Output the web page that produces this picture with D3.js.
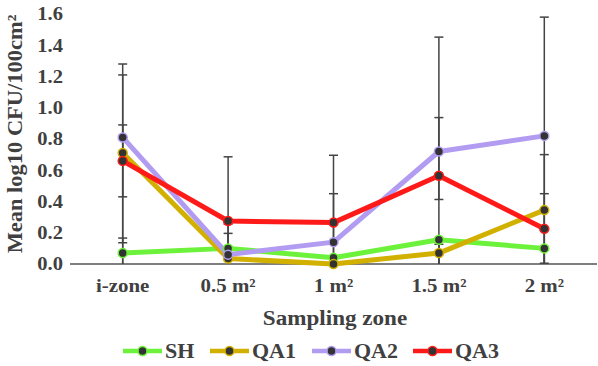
<!DOCTYPE html>
<html><head><meta charset="utf-8">
<script src="https://cdn.jsdelivr.net/npm/d3@7"></script>
<style>body{margin:0;background:#fff}svg{display:block}text{font-family:"Liberation Serif","Times New Roman",serif;font-weight:bold;fill:#404040}</style>
</head><body><svg id="c" width="598" height="366"></svg>
<script>
const categories = ["i-zone", "0.5 m²", "1 m²", "1.5 m²", "2 m²"];
const seriesNames = ["SH", "QA1", "QA2", "QA3"];
const colors = ["#6cf23a", "#d2b000", "#b29cf2", "#ff1a1a"];
const SH  = [0.07, 0.10, 0.04, 0.155, 0.10];
const QA1 = [0.71, 0.035, 0.0, 0.07, 0.345];
const QA2 = [0.81, 0.06, 0.14, 0.72, 0.82];
const QA3 = [0.66, 0.275, 0.265, 0.565, 0.225];
// error bar bounds (null = not shown / clipped below axis)
const SH_hi  = [0.166, 0.196, null, null, null];
const SH_lo  = [null, null, null, null, 0.005];
const QA1_hi = [1.21, 0.255, null, 0.126, 0.45];
const QA1_lo = [0.136, null, null, null, null];
const QA2_hi = [1.28, null, 0.45, 1.452, 1.58];
const QA2_lo = [null, null, null, null, null];
const QA3_hi = [0.89, 0.686, 0.696, 0.937, 0.70];
const QA3_lo = [0.43, null, null, 0.413, null];
const yTicks = [0, 0.2, 0.4, 0.6, 0.8, 1.0, 1.2, 1.4, 1.6];

const values = [SH, QA1, QA2, QA3];
const his = [SH_hi, QA1_hi, QA2_hi, QA3_hi];
const los = [SH_lo, QA1_lo, QA2_lo, QA3_lo];

const svg = d3.select("#c");
const x = d3.scalePoint().domain(categories).range([70, 597]).padding(0.5);
const y = d3.scaleLinear().domain([0, 1.6]).range([264, 14]);

// text helper with horizontal stretch (reference glyphs are wide)
function txt(parent, tx, ty, str, size, anchor, sx, rot) {
  const g = parent.append("g").attr("transform",
    `translate(${tx},${ty})` + (rot ? ` rotate(${rot})` : "") + ` scale(${sx},1)`);
  return g.append("text").attr("text-anchor", anchor).attr("dy", "0.35em")
    .style("font-size", size + "px").text(str);
}

// y tick labels
yTicks.forEach(d => txt(svg, 63, y(d), d.toFixed(1), 18, "end", 1.14));

// x axis
svg.append("g").attr("transform", "translate(0,264)")
  .call(d3.axisBottom(x).tickSize(0).tickFormat(""))
  .select(".domain").attr("stroke", "#555").attr("stroke-width", 1.5).attr("d", "M70,0H597");
categories.forEach(c => txt(svg, x(c), 285, c, 19, "middle", 1.1));

// titles
txt(svg, 15, 134, "Mean log10 CFU/100cm²", 21, "middle", 1.07, -90);
txt(svg, 335, 318, "Sampling zone", 21, "middle", 1.1);

// error bars
const eg = svg.append("g").attr("stroke", "#444").attr("stroke-width", 1.5);
values.forEach((vals, s) => {
  categories.forEach((c, i) => {
    const hi = his[s][i], lo = los[s][i];
    const top = hi != null ? hi : vals[i];
    const bot = lo != null ? lo : 0;
    eg.append("line").attr("x1", x(c)).attr("x2", x(c)).attr("y1", y(bot)).attr("y2", y(top));
    [hi, lo].forEach(b => {
      if (b != null) eg.append("line").attr("x1", x(c) - 4.5).attr("x2", x(c) + 4.5)
        .attr("y1", y(b)).attr("y2", y(b));
    });
  });
});

// lines and markers
const line = d3.line().x((d, i) => x(categories[i])).y(d => y(d));
values.forEach((vals, s) => {
  svg.append("path").datum(vals).attr("d", line).attr("fill", "none")
    .attr("stroke", colors[s]).attr("stroke-width", 5).attr("stroke-linejoin", "round");
});
values.forEach((vals, s) => {
  svg.append("g").selectAll("circle").data(vals).join("circle")
    .attr("cx", (d, i) => x(categories[i])).attr("cy", d => y(d)).attr("r", 4.5)
    .attr("fill", "#333").attr("stroke", colors[s]).attr("stroke-width", 1.5);
});

// legend
const legX = [123, 210, 312, 413];
const lg = svg.append("g");
seriesNames.forEach((n, s) => {
  const g = lg.append("g").attr("transform", `translate(${legX[s]},351)`);
  g.append("line").attr("x1", 0).attr("x2", 39).attr("stroke", colors[s]).attr("stroke-width", 4.5);
  g.append("circle").attr("cx", 19.5).attr("r", 4.5).attr("fill", "#333")
    .attr("stroke", colors[s]).attr("stroke-width", 1.5);
  txt(g, 42, 0, n, 20, "start", 1.1);
});
</script></body></html>
